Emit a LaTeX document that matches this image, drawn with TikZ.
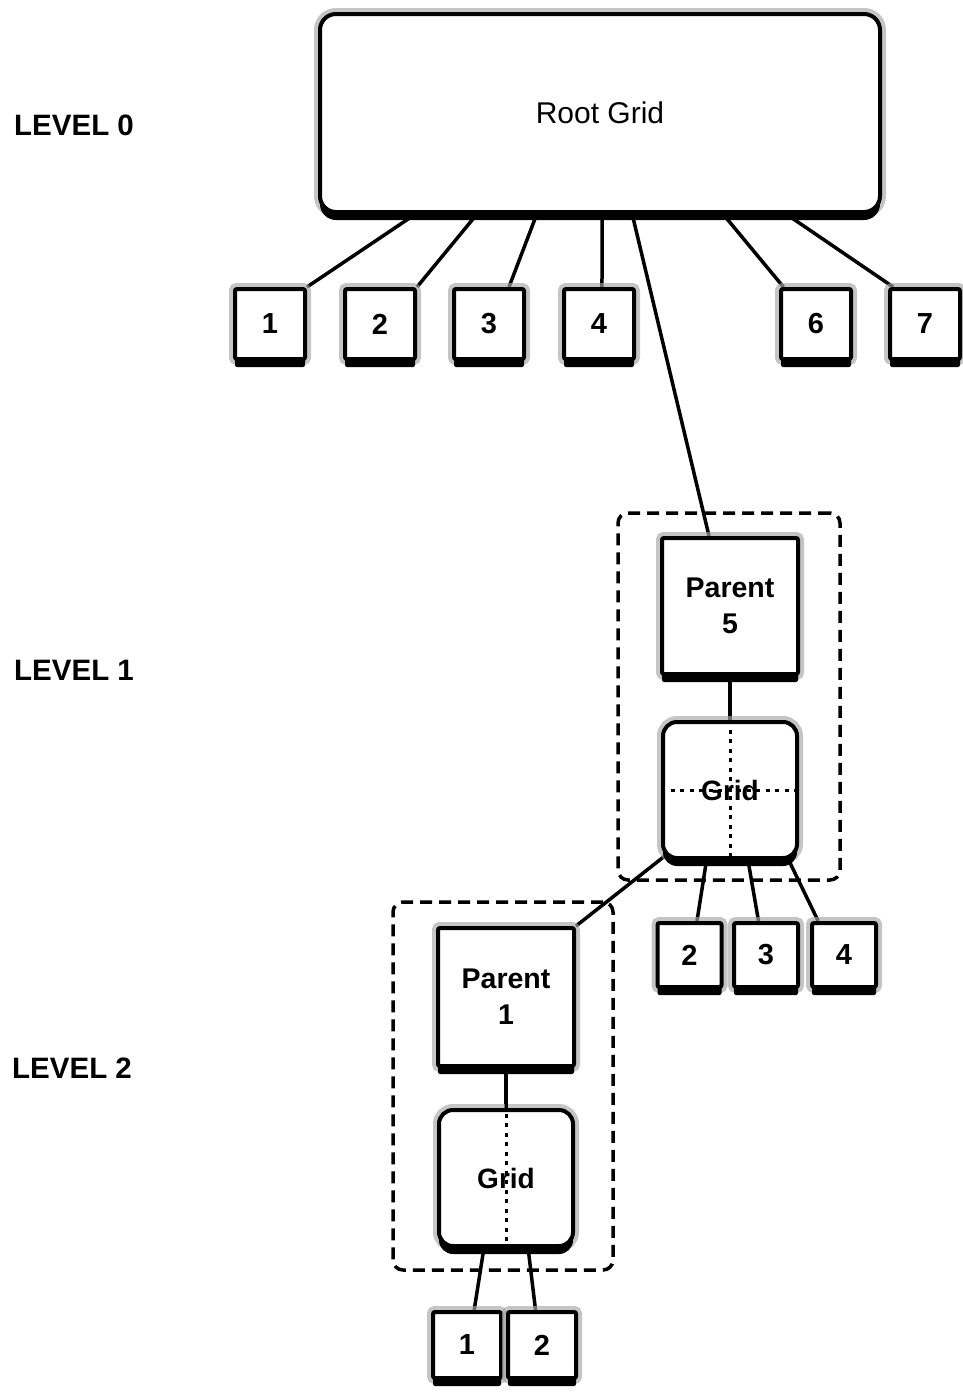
\documentclass[tikz,border=0pt]{standalone}
\usepackage{fontspec}
\setmainfont{Liberation Sans}
\usetikzlibrary{calc,shadows,backgrounds}

\tikzset{
  x=1pt, y=-1pt,
  halo/.style={preaction={draw=gray!70, line width=12pt, opacity=.65}},
  solid shadow/.style={drop shadow={shadow xshift=0pt, shadow yshift=-8pt, opacity=1, fill=black}},
  cell/.style={draw, line width=4pt, fill=white, rounded corners=2pt, inner sep=0pt,
    halo, solid shadow, font=\fontsize{29}{34}\selectfont\bfseries},
  parentbox/.style={cell, minimum width=136pt, minimum height=136pt,
    align=center, font=\fontsize{28.5}{36}\selectfont\bfseries},
  gridbox/.style={cell, rounded corners=14pt, minimum width=134pt, minimum height=136pt},
  gridtext/.style={inner sep=0pt, font=\fontsize{28}{34}\selectfont\bfseries},
  rootbox/.style={cell, rounded corners=16pt, minimum width=560pt, minimum height=198pt,
    font=\fontsize{30}{36}\selectfont},
  levellabel/.style={anchor=west, inner sep=0pt, font=\fontsize{29.5}{34}\selectfont\bfseries},
  link/.style={line width=3.5pt},
  groupframe/.style={draw, dash pattern=on 12pt off 7pt, line width=3.5pt,
    rounded corners=10pt, inner sep=0pt},
  split/.style={line width=3pt, dash pattern=on 4pt off 5.5pt},
}

\begin{document}
\begin{tikzpicture}
\useasboundingbox (0,0) rectangle (962,1392);

% level labels
\node[levellabel] (lv0) at (14,125) {LEVEL 0};
\node[levellabel] (lv1) at (14,670) {LEVEL 1};
\node[levellabel] (lv2) at (12,1068) {LEVEL 2};

% group frames
\node[groupframe, minimum width=222pt, minimum height=367pt] (frame1) at (729,696.5) {};
\node[groupframe, minimum width=220pt, minimum height=368pt] (frame2) at (503,1086) {};

% level 0
\node[rootbox] (root) at (600,113) {Root Grid};
\foreach \n/\x in {1/270, 2/380, 3/489, 4/599, 6/816, 7/925}
  \node[cell, minimum width=70pt, minimum height=70pt] (b\n) at (\x,324) {\n};

% level 1
\node[parentbox] (p5) at (730,606) {Parent\\5};
\node[gridbox] (g5) at (730,790) {};
\draw[split] (g5.north) -- (g5.south);
\draw[split] (g5.west) -- (g5.east);
\node[gridtext] (g5t) at (g5.center) {Grid};
\foreach \n/\x in {2/689.5, 3/766, 4/844}
  \node[cell, minimum width=64pt, minimum height=64pt] (c\n) at (\x,955) {\n};

% level 2
\node[parentbox, minimum height=138pt] (p1) at (506,997) {Parent\\1};
\node[gridbox] (g1) at (506,1178) {};
\draw[split] ($(g1.north)+(0,-4)$) -- ($(g1.south)+(0,4)$);
\node[gridtext] (g1t) at (g1.center) {Grid};
\node[cell, minimum width=68pt, minimum height=66pt] (d1) at (467,1345) {1};
\node[cell, minimum width=68pt, minimum height=66pt] (d2) at (542,1345) {2};

% connectors, behind the boxes
\begin{pgfonlayer}{background}
  \draw[link] ($(root.south west)!0.173!(root.south east)$) -- (b1.north east);
  \draw[link] ($(root.south west)!0.282!(root.south east)$) -- (b2.north east);
  \draw[link] ($(root.south west)!0.388!(root.south east)$) -- ($(b3.north west)!0.77!(b3.north east)$);
  \draw[link] ($(root.south west)!0.504!(root.south east)$) -- ($(b4.north west)!0.54!(b4.north east)$);
  \draw[link] ($(root.south west)!0.557!(root.south east)$) -- ($(p5.north west)!0.35!(p5.north east)$);
  \draw[link] ($(root.south west)!0.718!(root.south east)$) -- ($(b6.north west)!0.06!(b6.north east)$);
  \draw[link] ($(root.south west)!0.830!(root.south east)$) -- ($(b7.north west)!0.07!(b7.north east)$);

  \draw[link] (p5) -- (g5);
  \draw[link] ($(g5.south west)!0.33!(g5.south east)$) -- ($(c2.north west)!0.61!(c2.north east)$);
  \draw[link] ($(g5.south west)!0.63!(g5.south east)$) -- ($(c3.north west)!0.39!(c3.north east)$);
  \draw[link] ($(g5.south west)!0.925!(g5.south east)$) -- ($(c4.north west)!0.12!(c4.north east)$);
  \draw[link] ($(g5.south west)+(5,-5)$) -- (p1.north east);

  \draw[link] (p1) -- (g1);
  \draw[link] ($(g1.south west)!0.34!(g1.south east)$) -- ($(d1.north west)!0.6!(d1.north east)$);
  \draw[link] ($(g1.south west)!0.66!(g1.south east)$) -- ($(d2.north west)!0.41!(d2.north east)$);
\end{pgfonlayer}
\end{tikzpicture}
\end{document}
